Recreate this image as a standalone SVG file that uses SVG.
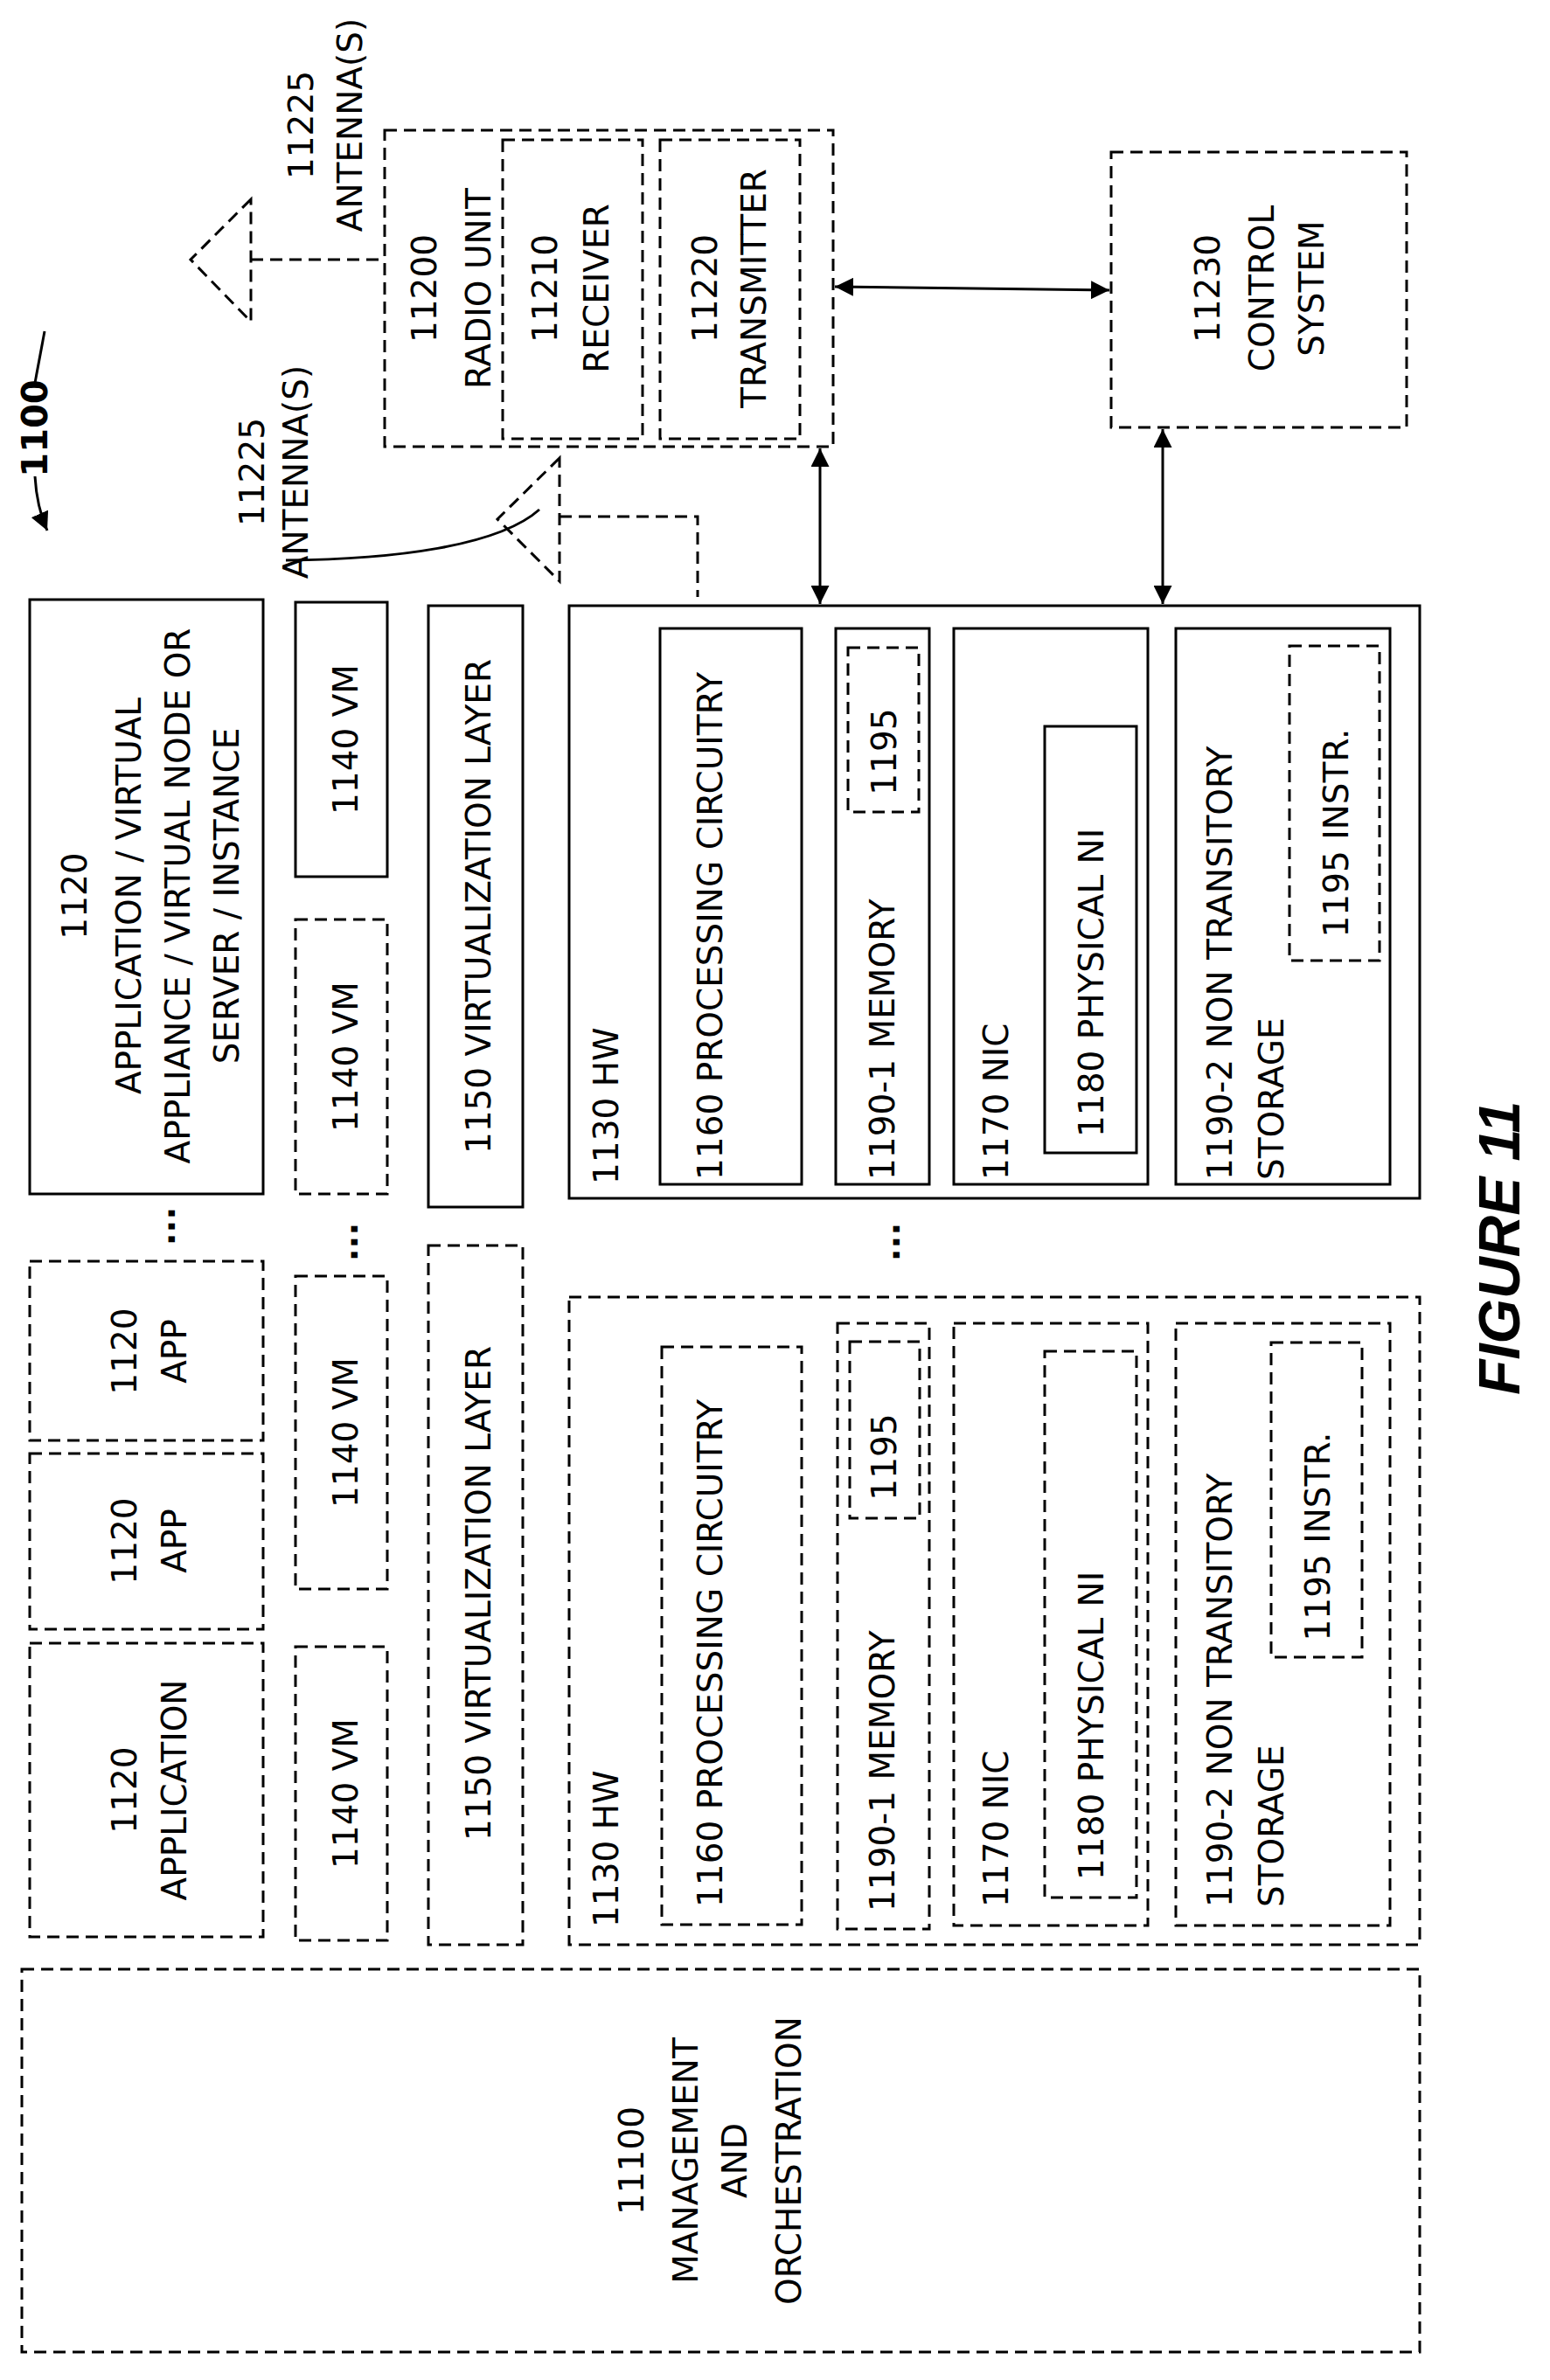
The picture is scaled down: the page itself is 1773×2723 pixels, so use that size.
<svg xmlns="http://www.w3.org/2000/svg" width="1773" height="2723" viewBox="0 0 1773 2723">
<style>
rect,polygon,path.c{fill:none;stroke:#000;stroke-width:3}
.d{stroke-dasharray:14 8}
text{font-family:"DejaVu Sans","Liberation Sans",sans-serif;font-size:39px;fill:#000;dominant-baseline:central}
.m{text-anchor:middle}
.s{text-anchor:start}
</style>
<defs>
<marker id="ah" viewBox="0 0 10 10" refX="10" refY="5" markerWidth="7" markerHeight="7" orient="auto-start-reverse"><path d="M0,0 L10,5 L0,10 z" fill="#000"/></marker>
</defs>
<rect width="1773" height="2723" fill="#fff" style="stroke:none"/>

<g id="ref1100">
<path class="c" d="M51,379 L40,438"/>
<text class="m" style="font-weight:bold;font-size:40px" transform="translate(40,490) rotate(-90)">1100</text>
<path class="c" d="M40,545 Q42,580 54,607" marker-end="url(#ah)"/>
</g>

<g id="antenna1">
<polygon class="d" points="287,228 218,297 287,368"/>
<path class="c d" d="M287,297 L440,297"/>
<text class="m" transform="translate(344,143) rotate(-90)">11225</text>
<text class="m" transform="translate(400,143) rotate(-90)">ANTENNA(S)</text>
</g>

<g id="antenna2">
<polygon class="d" points="640,524 569,594 640,665"/>
<path class="c d" d="M640,591 L798,591 L798,683"/>
<text class="m" transform="translate(288,540) rotate(-90)">11225</text>
<text class="m" transform="translate(338,540) rotate(-90)">ANTENNA(S)</text>
<path class="c" d="M327,641 C450,640 570,625 617,583"/>
</g>

<g id="radio">
<rect class="d" x="440" y="149" width="513" height="362"/>
<text class="m" transform="translate(485,330) rotate(-90)">11200</text>
<text class="m" transform="translate(547,330) rotate(-90)">RADIO UNIT</text>
</g>
<g id="receiver">
<rect class="d" x="575" y="160" width="160" height="342"/>
<text class="m" transform="translate(623,330) rotate(-90)">11210</text>
<text class="m" transform="translate(682,330) rotate(-90)">RECEIVER</text>
</g>
<g id="transmitter">
<rect class="d" x="755" y="160" width="160" height="342"/>
<text class="m" transform="translate(806,330) rotate(-90)">11220</text>
<text class="m" transform="translate(862,330) rotate(-90)">TRANSMITTER</text>
</g>
<g id="control">
<rect class="d" x="1271" y="174" width="338" height="315"/>
<text class="m" transform="translate(1381,330) rotate(-90)">11230</text>
<text class="m" transform="translate(1443,330) rotate(-90)">CONTROL</text>
<text class="m" transform="translate(1500,330) rotate(-90)">SYSTEM</text>
</g>

<g id="connectors">
<path class="c" d="M955,328 L1269,332" marker-start="url(#ah)" marker-end="url(#ah)"/>
<path class="c" d="M938,513 L938,691" marker-start="url(#ah)" marker-end="url(#ah)"/>
<path class="c" d="M1330,491 L1330,691" marker-start="url(#ah)" marker-end="url(#ah)"/>
</g>

<g id="app-main">
<rect x="34" y="686" width="267" height="680"/>
<text class="m" transform="translate(85,1025) rotate(-90)">1120</text>
<text class="m" transform="translate(147,1025) rotate(-90)">APPLICATION / VIRTUAL</text>
<text class="m" transform="translate(203,1025) rotate(-90)">APPLIANCE / VIRTUAL NODE OR</text>
<text class="m" transform="translate(259,1025) rotate(-90)">SERVER / INSTANCE</text>
</g>
<g id="app1">
<rect class="d" x="34" y="1443" width="267" height="205"/>
<text class="m" transform="translate(142,1546) rotate(-90)">1120</text>
<text class="m" transform="translate(199,1546) rotate(-90)">APP</text>
</g>
<g id="app2">
<rect class="d" x="34" y="1663" width="267" height="201"/>
<text class="m" transform="translate(142,1763) rotate(-90)">1120</text>
<text class="m" transform="translate(199,1763) rotate(-90)">APP</text>
</g>
<g id="app3">
<rect class="d" x="34" y="1880" width="267" height="336"/>
<text class="m" transform="translate(142,2048) rotate(-90)">1120</text>
<text class="m" transform="translate(199,2048) rotate(-90)">APPLICATION</text>
</g>
<g id="dots">
<text class="m" style="font-weight:bold" transform="translate(186,1403) rotate(-90)">...</text>
<text class="m" style="font-weight:bold" transform="translate(395,1421) rotate(-90)">...</text>
<text class="m" style="font-weight:bold" transform="translate(1015,1421) rotate(-90)">...</text>
</g>

<g id="vm1">
<rect x="338" y="689" width="105" height="314"/>
<text class="m" transform="translate(395,846) rotate(-90)">1140 VM</text>
</g>
<g id="vm2">
<rect class="d" x="338" y="1052" width="105" height="314"/>
<text class="m" transform="translate(395,1209) rotate(-90)">1140 VM</text>
</g>
<g id="vm3">
<rect class="d" x="338" y="1460" width="105" height="358"/>
<text class="m" transform="translate(395,1639) rotate(-90)">1140 VM</text>
</g>
<g id="vm4">
<rect class="d" x="338" y="1884" width="105" height="336"/>
<text class="m" transform="translate(395,2052) rotate(-90)">1140 VM</text>
</g>

<g id="virt1">
<rect x="490" y="693" width="108" height="688"/>
<text class="m" transform="translate(547,1037) rotate(-90)">1150 VIRTUALIZATION LAYER</text>
</g>
<g id="virt2">
<rect class="d" x="490" y="1425" width="108" height="800"/>
<text class="m" transform="translate(547,1823) rotate(-90)">1150 VIRTUALIZATION LAYER</text>
</g>

<g id="hw1">
<rect x="651" y="693" width="973" height="678"/>
<text class="s" transform="translate(693,1355) rotate(-90)">1130 HW</text>
<rect x="755" y="719" width="162" height="636"/>
<text class="s" transform="translate(812,1350) rotate(-90)">1160 PROCESSING CIRCUITRY</text>
<rect x="956" y="719" width="107" height="636"/>
<text class="s" transform="translate(1009,1350) rotate(-90)">1190-1 MEMORY</text>
<rect class="d" x="970" y="741" width="81" height="188"/>
<text class="m" transform="translate(1011,860) rotate(-90)">1195</text>
<rect x="1091" y="719" width="222" height="636"/>
<text class="s" transform="translate(1139,1350) rotate(-90)">1170 NIC</text>
<rect x="1195" y="831" width="105" height="488"/>
<text class="s" transform="translate(1248,1301) rotate(-90)">1180 PHYSICAL NI</text>
<rect x="1345" y="719" width="245" height="636"/>
<text class="s" transform="translate(1395,1350) rotate(-90)">1190-2 NON TRANSITORY</text>
<text class="s" transform="translate(1454,1350) rotate(-90)">STORAGE</text>
<rect class="d" x="1475" y="739" width="103" height="360"/>
<text class="m" transform="translate(1528,953) rotate(-90)">1195 INSTR.</text>
</g>

<g id="hw2">
<rect class="d" x="651" y="1484" width="973" height="741"/>
<text class="s" transform="translate(693,2205) rotate(-90)">1130 HW</text>
<rect class="d" x="757" y="1541" width="160" height="661"/>
<text class="s" transform="translate(812,2182) rotate(-90)">1160 PROCESSING CIRCUITRY</text>
<rect class="d" x="958" y="1514" width="105" height="693"/>
<text class="s" transform="translate(1009,2187) rotate(-90)">1190-1 MEMORY</text>
<rect class="d" x="972" y="1535" width="80" height="202"/>
<text class="m" transform="translate(1011,1667) rotate(-90)">1195</text>
<rect class="d" x="1091" y="1514" width="222" height="689"/>
<text class="s" transform="translate(1139,2182) rotate(-90)">1170 NIC</text>
<rect class="d" x="1195" y="1546" width="105" height="625"/>
<text class="s" transform="translate(1248,2151) rotate(-90)">1180 PHYSICAL NI</text>
<rect class="d" x="1345" y="1514" width="245" height="689"/>
<text class="s" transform="translate(1395,2182) rotate(-90)">1190-2 NON TRANSITORY</text>
<text class="s" transform="translate(1454,2182) rotate(-90)">STORAGE</text>
<rect class="d" x="1454" y="1536" width="104" height="360"/>
<text class="m" transform="translate(1507,1758) rotate(-90)">1195 INSTR.</text>
</g>

<g id="mano">
<rect class="d" x="25" y="2253" width="1599" height="438"/>
<text class="m" transform="translate(722,2472) rotate(-90)">11100</text>
<text class="m" transform="translate(784,2472) rotate(-90)">MANAGEMENT</text>
<text class="m" transform="translate(840,2472) rotate(-90)">AND</text>
<text class="m" transform="translate(902,2472) rotate(-90)">ORCHESTRATION</text>
</g>

<text class="m" style="font-family:'Liberation Sans',sans-serif;font-weight:bold;font-style:italic;font-size:66px" transform="translate(1715,1428) rotate(-90)">FIGURE 11</text>
</svg>
